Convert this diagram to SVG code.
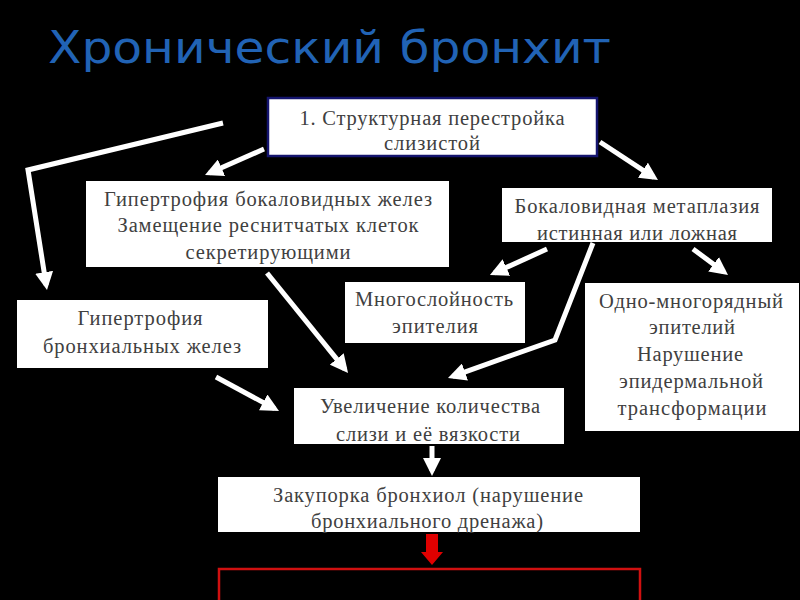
<svg xmlns="http://www.w3.org/2000/svg" width="800" height="600" viewBox="0 0 800 600">
<defs>
<style>
.box{fill:#ffffff;stroke:none}
.t{font-family:"Liberation Serif","DejaVu Serif",serif;font-size:20.5px;fill:#404040;text-anchor:middle}
.c{fill:none;stroke:#ffffff;stroke-width:5;stroke-linejoin:miter}
</style>
<marker id="ah" markerUnits="userSpaceOnUse" markerWidth="18" markerHeight="18" refX="13" refY="9" orient="auto" viewBox="0 0 18 18">
<path d="M0,0 L18,9 L0,18 Z" fill="#ffffff"/>
</marker>
</defs>
<rect width="800" height="600" fill="#000000"/>
<text x="48" y="63" font-family="'DejaVu Sans',Verdana,sans-serif" font-size="45" fill="#2163b5" textLength="563" lengthAdjust="spacingAndGlyphs">Хронический бронхит</text>

<g id="connectors">
<polyline class="c" points="223,123 28,170 46.2,285.1" marker-end="url(#ah)"/>
<line class="c" x1="264" y1="149" x2="209.6" y2="173" marker-end="url(#ah)"/>
<line class="c" x1="600" y1="142" x2="653.8" y2="177.3" marker-end="url(#ah)"/>
<line class="c" x1="547" y1="249" x2="494.5" y2="272.9" marker-end="url(#ah)"/>
<line class="c" x1="693" y1="249" x2="724" y2="272" marker-end="url(#ah)"/>
<polyline class="c" points="593,243 555,340 452.7,376.3" marker-end="url(#ah)"/>
<line class="c" x1="267" y1="273" x2="344.9" y2="369.1" marker-end="url(#ah)"/>
<line class="c" x1="216" y1="377" x2="274.6" y2="408.6" marker-end="url(#ah)"/>
<line class="c" x1="432" y1="446" x2="432" y2="471" marker-end="url(#ah)"/>
<path d="M426,534 H438 V552 H443 L432,565 L421,552 H426 Z" fill="#e00000"/>
</g>

<g id="n1">
<rect x="268" y="98" width="329" height="58" fill="#ffffff" stroke="#14146e" stroke-width="2.5"/>
<text class="t" x="432" y="125" textLength="265" lengthAdjust="spacing">1. Структурная перестройка</text>
<text class="t" x="432" y="150" textLength="96" lengthAdjust="spacing">слизистой</text>
</g>
<g id="n2">
<rect class="box" x="86" y="181" width="363" height="86"/>
<text class="t" x="268" y="206" textLength="328" lengthAdjust="spacing">Гипертрофия бокаловидных желез</text>
<text class="t" x="268" y="232" textLength="301" lengthAdjust="spacing">Замещение реснитчатых клеток</text>
<text class="t" x="268" y="259" textLength="165" lengthAdjust="spacing">секретирующими</text>
</g>
<g id="n3">
<rect class="box" x="502" y="188" width="270" height="54"/>
<text class="t" x="637" y="213" textLength="245" lengthAdjust="spacing">Бокаловидная метаплазия</text>
<text class="t" x="637" y="240" textLength="200" lengthAdjust="spacing">истинная или ложная</text>
</g>
<g id="n4">
<rect class="box" x="345" y="282" width="180" height="61"/>
<text class="t" x="434" y="306" textLength="158" lengthAdjust="spacing">Многослойность</text>
<text class="t" x="435" y="333" textLength="86" lengthAdjust="spacing">эпителия</text>
</g>
<g id="n5">
<rect class="box" x="585" y="283" width="214" height="148"/>
<text class="t" x="691" y="308" textLength="184" lengthAdjust="spacing">Одно-многорядный</text>
<text class="t" x="692" y="334" textLength="86" lengthAdjust="spacing">эпителий</text>
<text class="t" x="690" y="361" textLength="106" lengthAdjust="spacing">Нарушение</text>
<text class="t" x="691" y="388" textLength="144" lengthAdjust="spacing">эпидермальной</text>
<text class="t" x="692" y="415" textLength="149" lengthAdjust="spacing">трансформации</text>
</g>
<g id="n6">
<rect class="box" x="17" y="300" width="251" height="68"/>
<text class="t" x="140" y="325" textLength="125" lengthAdjust="spacing">Гипертрофия</text>
<text class="t" x="142" y="353" textLength="198" lengthAdjust="spacing">бронхиальных желез</text>
</g>
<g id="n7">
<rect class="box" x="294" y="388" width="270" height="56"/>
<text class="t" x="430" y="413" textLength="220" lengthAdjust="spacing">Увеличение количества</text>
<text class="t" x="428" y="441" textLength="184" lengthAdjust="spacing">слизи и её вязкости</text>
</g>
<g id="n8">
<rect class="box" x="218" y="477" width="422" height="55"/>
<text class="t" x="428" y="502" textLength="310" lengthAdjust="spacing">Закупорка бронхиол (нарушение</text>
<text class="t" x="427" y="528" textLength="232" lengthAdjust="spacing">бронхиального дренажа)</text>
</g>
<g id="n9">
<rect x="219" y="569" width="421" height="40" fill="#000000" stroke="#d01010" stroke-width="2.5"/>
</g>
</svg>
